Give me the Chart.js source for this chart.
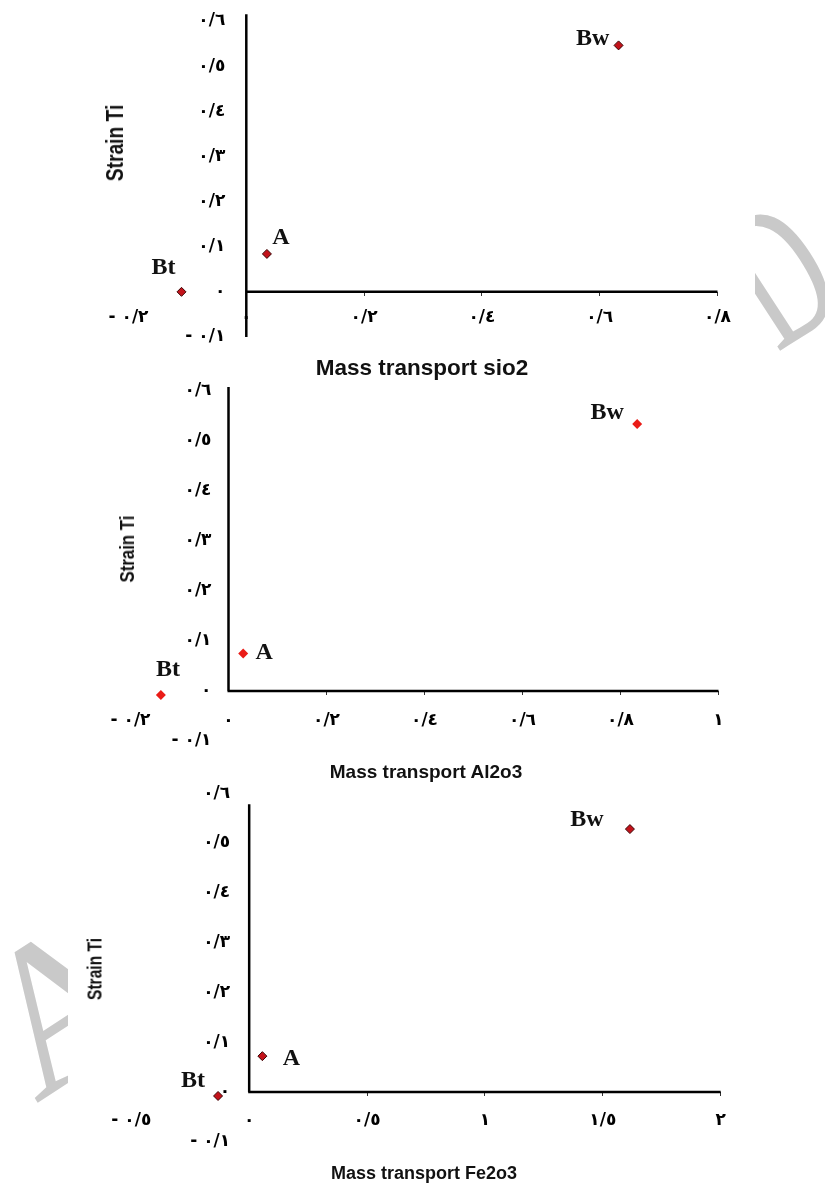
<!DOCTYPE html>
<html>
<head>
<meta charset="utf-8">
<script src="https://cdn.jsdelivr.net/npm/chart.js@4.4.1/dist/chart.umd.min.js"></script>
<style>
  body { margin: 0; background: #fff; }
  #page { position: relative; width: 825px; height: 1184px; overflow: hidden; background: #fff; }
  canvas { position: absolute; left: 0; }
  .xt, .yt { position: absolute; font-family: "Liberation Sans", Arial, sans-serif; font-weight: bold; color: #111; white-space: nowrap; }
  .xt { transform: translate(-50%, -50%); }
  .mark { position: absolute; overflow: hidden; }
  .mark span { position: absolute; font-family: "Liberation Serif", serif; color: #c9c9c9; line-height: 1; }
</style>
</head>
<body>
<div id="page">
  <div class="mark" style="left:0;top:925px;width:68px;height:200px"><span style="left:-15px;top:-27px;font-size:210px;transform:rotate(-33deg)">A</span></div>
  <div class="mark" style="left:755px;top:195px;width:70px;height:190px"><span style="left:-50px;top:-22px;font-size:200px;transform:rotate(-33deg) scaleX(0.6)">D</span></div>

  <canvas id="c1" width="825" height="380" style="top:0"></canvas>
  <canvas id="c2" width="825" height="400" style="top:380px"></canvas>
  <canvas id="c3" width="825" height="404" style="top:780px"></canvas>

  <div class="yt" style="left:115px;top:143px;font-size:24px;transform:translate(-50%,-50%) rotate(-90deg) scaleX(0.8)">Strain Ti</div>
  <div class="xt" style="left:422px;top:368px;font-size:22.5px">Mass transport sio2</div>

  <div class="yt" style="left:127px;top:549px;font-size:21px;transform:translate(-50%,-50%) rotate(-90deg) scaleX(0.8)">Strain Ti</div>
  <div class="xt" style="left:426px;top:772px;font-size:19px">Mass transport Al2o3</div>

  <div class="yt" style="left:95px;top:969px;font-size:19.5px;transform:translate(-50%,-50%) rotate(-90deg) scaleX(0.8)">Strain Ti</div>
  <div class="xt" style="left:424px;top:1173px;font-size:18px">Mass transport Fe2o3</div>
</div>

<script>
// horizons, same order in every panel
const horizons = ['A', 'Bt', 'Bw'];

// Strain Ti (y) against mass transport (x)
const sio2X  = [0.035, -0.110, 0.632];
const sio2Y  = [0.084,  0.000, 0.546];
const al2o3X = [0.030, -0.138, 0.834];
const al2o3Y = [0.075, -0.008, 0.534];
const fe2o3X = [0.056, -0.132, 1.615];
const fe2o3Y = [0.072, -0.008, 0.528];

// tick ranges
const strainTicks = { min: -0.1, max: 0.6, step: 0.1 };
const sio2Ticks   = { min: -0.2, max: 0.8, step: 0.2 };
const al2o3Ticks  = { min: -0.2, max: 1.0, step: 0.2 };
const fe2o3Ticks  = { min: -0.5, max: 2.0, step: 0.5 };

const AR_DIGITS = '٠١٢٣٤٥٦٧٨٩';
function arNum(v) {
  const r = Math.round(v * 10) / 10;
  const s = Math.abs(r).toString().replace(/\d/g, d => AR_DIGITS[d]).replace('.', '/');
  return r < 0 ? '- ' + s : s;
}

// axes crossing at zero + horizon names beside the markers
const crossAxes = {
  id: 'crossAxes',
  beforeDatasetsDraw(chart, args, o) {
    const { ctx, scales: { x, y } } = chart;
    const x0 = x.getPixelForValue(0), y0 = y.getPixelForValue(0);
    ctx.save();
    ctx.strokeStyle = '#000';
    ctx.lineWidth = 2.5;
    ctx.beginPath();
    ctx.moveTo(x0, y.getPixelForValue(o.yTop));
    ctx.lineTo(x0, y.getPixelForValue(o.yBottom));
    ctx.moveTo(x0 - 1, y0);
    ctx.lineTo(x.getPixelForValue(o.xEnd), y0);
    ctx.stroke();
    ctx.restore();
  },
  afterDatasetsDraw(chart, args, o) {
    const ctx = chart.ctx;
    ctx.save();
    ctx.font = 'bold 24px "Liberation Serif", "Times New Roman", serif';
    ctx.fillStyle = '#111';
    ctx.textAlign = 'center';
    ctx.textBaseline = 'middle';
    chart.getDatasetMeta(0).data.forEach((pt, i) => {
      const off = o.offsets[i];
      ctx.fillText(horizons[i], pt.x + off[0], pt.y + off[1]);
    });
    ctx.restore();
  }
};

const tickFont = { family: '"DejaVu Sans", sans-serif', size: 17, weight: 'bold' };

function makeChart(id, xs, ys, xr, cfg) {
  const p = cfg.padding;
  const canvas = document.getElementById(id);
  // y labels sit a few pixels left of the x = 0 line
  const yAxisAt = -cfg.yGap * (xr.max - xr.min) / (canvas.width - p.left - p.right);
  return new Chart(canvas, {
    type: 'scatter',
    data: {
      datasets: [{
        data: xs.map((x, i) => ({ x, y: ys[i] })),
        pointStyle: 'rectRot',
        pointRadius: cfg.radius,
        backgroundColor: cfg.fill,
        borderColor: cfg.stroke,
        borderWidth: cfg.strokeW,
        clip: false
      }]
    },
    options: {
      responsive: false,
      animation: false,
      layout: { padding: p },
      plugins: {
        legend: { display: false },
        tooltip: { enabled: false },
        crossAxes: cfg.axes
      },
      scales: {
        x: {
          type: 'linear',
          position: { y: 0 },
          min: xr.min, max: xr.max,
          ticks: {
            stepSize: xr.step, autoSkip: false, maxRotation: 0,
            callback: v => arNum(v),
            font: tickFont, color: '#000', padding: cfg.xPad
          },
          grid: {
            display: true, drawOnChartArea: false, drawTicks: true, tickLength: 4,
            color: c => (c.tick && c.tick.value > 0.001) ? '#333' : 'rgba(0,0,0,0)'
          },
          border: { display: false }
        },
        y: {
          type: 'linear',
          position: { x: yAxisAt },
          min: strainTicks.min, max: strainTicks.max,
          ticks: {
            stepSize: strainTicks.step, autoSkip: false,
            callback: v => arNum(v),
            font: tickFont, color: '#000', padding: 0
          },
          grid: { display: false },
          border: { display: false }
        }
      }
    },
    plugins: [crossAxes]
  });
}

makeChart('c1', sio2X, sio2Y, sio2Ticks, {
  padding: { left: 128.5, right: 107.5, top: 21, bottom: 43 },
  radius: 4.5, fill: '#c3121a', stroke: '#3a0505', strokeW: 1,
  xPad: 12, yGap: 21,
  axes: { yTop: 0.615, yBottom: -0.1, xEnd: 0.8, offsets: [[14, -16], [-18, -24], [-26, -7]] }
});

makeChart('c2', al2o3X, al2o3Y, al2o3Ticks, {
  padding: { left: 130.5, right: 106.5, top: 11, bottom: 39 },
  radius: 5, fill: '#ea1c17', stroke: '#ea1c17', strokeW: 0,
  xPad: 15, yGap: 17,
  axes: { yTop: 0.608, yBottom: 0, xEnd: 1.0, offsets: [[21, -1], [7, -25], [-30, -11]] }
});

makeChart('c3', fe2o3X, fe2o3Y, fe2o3Ticks, {
  padding: { left: 131.3, right: 104.3, top: 13.2, bottom: 42.2 },
  radius: 4.5, fill: '#c3121a', stroke: '#3a0505', strokeW: 1,
  xPad: 14, yGap: 19,
  axes: { yTop: 0.578, yBottom: 0, xEnd: 2.0, offsets: [[29, 3], [-25, -15], [-43, -9]] }
});
</script>
</body>
</html>
